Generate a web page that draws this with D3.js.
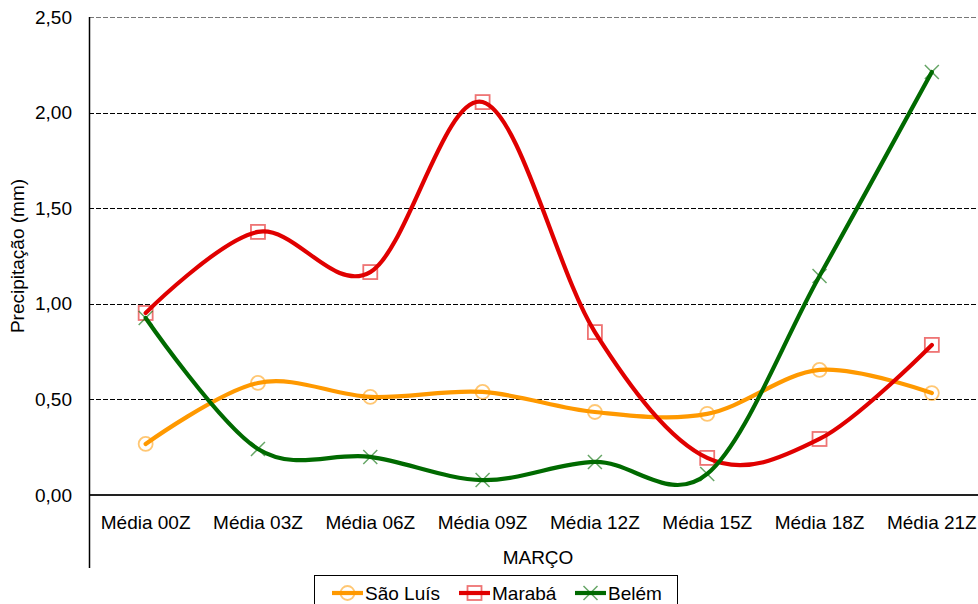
<!DOCTYPE html>
<html><head><meta charset="utf-8">
<script src="https://cdn.jsdelivr.net/npm/d3@7"></script>
<style>body{margin:0;background:#fff}svg{display:block}text{font-family:"Liberation Sans",Arial,sans-serif;fill:#000}</style>
</head><body><svg id="c" width="978" height="604"></svg>
<script>
const categories = ["Média 00Z","Média 03Z","Média 06Z","Média 09Z","Média 12Z","Média 15Z","Média 18Z","Média 21Z"];
const saoLuis = [0.267,0.586,0.513,0.539,0.434,0.424,0.654,0.533];
const maraba  = [0.952,1.376,1.166,2.055,0.852,0.194,0.293,0.785];
const belem   = [0.926,0.241,0.199,0.078,0.173,0.110,1.145,2.212];
const yTicks = [0,0.5,1,1.5,2,2.5];
const seriesNames = ["São Luís","Marabá","Belém"];

const series = [
  {name:seriesNames[0], values:saoLuis, color:"#FF9900", marker:"circle"},
  {name:seriesNames[1], values:maraba, color:"#E00000", marker:"square"},
  {name:seriesNames[2], values:belem, color:"#006A00", marker:"x"}
];
const svg = d3.select("#c");
const x = d3.scaleBand().domain(categories).range([89.5,988]);
const y = d3.scaleLinear().domain([0,2.5]).range([495,17]);
const fmt = v => d3.format(".2f")(v).replace(".",",");

// gridlines
svg.append("g").selectAll("line").data(yTicks.filter(d=>d>0)).join("line")
  .attr("x1",89).attr("x2",978).attr("y1",d=>Math.round(y(d))+0.5).attr("y2",d=>Math.round(y(d))+0.5)
  .attr("stroke",d=>d===2.5?"#777":"#000").attr("stroke-width",1).attr("stroke-dasharray","5,2");
// y labels
svg.append("g").selectAll("text").data(yTicks).join("text")
  .attr("x",72).attr("y",d=>y(d)).attr("dy","0.35em").attr("text-anchor","end")
  .attr("font-size",19).text(fmt);
// axes lines
svg.append("line").attr("x1",89).attr("x2",978).attr("y1",495).attr("y2",495).attr("stroke","#222").attr("stroke-width",2);
svg.append("line").attr("x1",89.5).attr("x2",89.5).attr("y1",17).attr("y2",568).attr("stroke","#000").attr("stroke-width",1.5);
// x labels
svg.append("g").selectAll("text").data(categories).join("text")
  .attr("x",d=>x(d)+x.bandwidth()/2).attr("y",529).attr("text-anchor","middle")
  .attr("font-size",19).text(d=>d);
svg.append("text").attr("x",538).attr("y",564).attr("text-anchor","middle").attr("font-size",19).text("MARÇO");
svg.append("text").attr("transform","translate(24,256) rotate(-90)").attr("text-anchor","middle").attr("font-size",19).text("Precipitação (mm)");

const line = d3.line().x((d,i)=>x(categories[i])+x.bandwidth()/2).y(d=>y(d)).curve(d3.curveCardinal.tension(0));

function drawMarker(g, type, cx, cy, color){
  if(type==="circle") g.append("circle").attr("cx",cx).attr("cy",cy).attr("r",7).attr("fill","none").attr("stroke",color).attr("stroke-width",1.8).attr("opacity",0.55);
  else if(type==="square") g.append("rect").attr("x",cx-7).attr("y",cy-7).attr("width",14).attr("height",14).attr("fill","none").attr("stroke",color).attr("stroke-width",1.8).attr("opacity",0.55);
  else { const p=`M${cx-7},${cy-7}L${cx+7},${cy+7}M${cx-7},${cy+7}L${cx+7},${cy-7}`;
    g.append("path").attr("d",p).attr("stroke",color).attr("stroke-width",1.5).attr("fill","none").attr("opacity",0.6); }
}
series.forEach(s=>{
  svg.append("path").attr("d",line(s.values)).attr("fill","none").attr("stroke",s.color).attr("stroke-width",4.2).attr("stroke-linecap","round");
  const g = svg.append("g");
  s.values.forEach((v,i)=>drawMarker(g,s.marker,x(categories[i])+x.bandwidth()/2,y(v),s.color));
});

// legend
svg.append("rect").attr("x",314.5).attr("y",575.5).attr("width",363).attr("height",40).attr("fill","#fff").attr("stroke","#000").attr("stroke-width",1);
const legX = [332,459,575];
series.forEach((s,i)=>{
  const g = svg.append("g");
  g.append("line").attr("x1",legX[i]).attr("x2",legX[i]+31).attr("y1",593).attr("y2",593).attr("stroke",s.color).attr("stroke-width",4.2);
  drawMarker(g,s.marker,legX[i]+15.5,593,s.color);
  g.append("text").attr("x",legX[i]+33).attr("y",593).attr("dy","0.35em").attr("font-size",19).text(s.name);
});
</script></body></html>
